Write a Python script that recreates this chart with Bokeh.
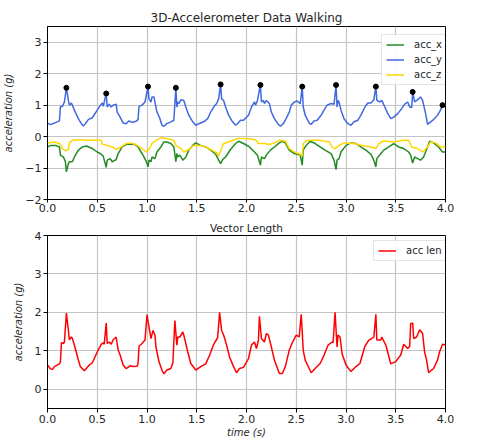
from bokeh.plotting import figure
from bokeh.models import Range1d, FixedTicker, PrintfTickFormatter, Legend, LegendItem
from bokeh.layouts import column
from bokeh.embed import file_html
from bokeh.resources import INLINE

# ---------------- data ----------------
t_y = [0, 0.03, 0.07, 0.12, 0.13, 0.15, 0.17, 0.19, 0.21, 0.22, 0.24, 0.25, 0.27, 0.31, 0.34, 0.36, 0.38, 0.41, 0.45, 0.5,
       0.54, 0.55, 0.56, 0.59, 0.6, 0.62, 0.64, 0.66, 0.69, 0.7, 0.73, 0.76, 0.79, 0.82, 0.85, 0.89, 0.91, 0.92, 0.95, 0.98,
       1.01, 1.02, 1.04, 1.05, 1.07, 1.09, 1.1, 1.13, 1.15, 1.17, 1.2, 1.24, 1.27, 1.29, 1.3, 1.31, 1.32, 1.34, 1.37, 1.39,
       1.42, 1.46, 1.49, 1.52, 1.57, 1.61, 1.64, 1.67, 1.7, 1.72, 1.74, 1.75, 1.77, 1.79, 1.82, 1.86, 1.89, 1.91, 1.94, 1.97,
       2.02, 2.05, 2.08, 2.09, 2.11, 2.14, 2.15, 2.17, 2.18, 2.2, 2.23, 2.25, 2.28, 2.32, 2.34, 2.37, 2.39, 2.43, 2.45, 2.48,
       2.51, 2.54, 2.56, 2.57, 2.59, 2.63, 2.65, 2.68, 2.71, 2.75, 2.78, 2.81, 2.85, 2.88, 2.9, 2.91, 2.92, 2.93, 2.95, 2.98,
       3.02, 3.05, 3.08, 3.12, 3.15, 3.19, 3.22, 3.25, 3.28, 3.3, 3.31, 3.34, 3.36, 3.39, 3.42, 3.45, 3.48, 3.52, 3.56, 3.59,
       3.62, 3.64, 3.66, 3.67, 3.69, 3.71, 3.75, 3.77, 3.8, 3.82, 3.85, 3.88, 3.92, 3.95, 3.97, 4.0]
acc_y = [0.43, 0.38, 0.43, 0.5, 0.96, 0.96, 1.1, 1.55, 1.15, 1.0, 1.07, 1.0, 0.84, 0.57, 0.41, 0.34, 0.41, 0.54, 0.6, 0.84,
         1.03, 1.07, 0.96, 1.37, 0.94, 1.03, 0.94, 1.0, 1.03, 0.78, 0.62, 0.43, 0.41, 0.5, 0.45, 0.49, 0.54, 0.96, 1.0, 1.1,
         1.59, 1.2, 1.1, 1.26, 1.26, 0.94, 0.78, 0.57, 0.36, 0.33, 0.41, 0.47, 0.52, 1.55, 0.94, 1.1, 1.05, 1.17, 1.15, 0.94,
         0.68, 0.47, 0.36, 0.41, 0.47, 0.57, 0.78, 0.94, 1.05, 1.2, 1.66, 1.2, 1.15, 0.94, 0.68, 0.47, 0.36, 0.41, 0.52, 0.52,
         0.68, 0.94, 1.1, 1.0, 1.15, 1.64, 1.1, 1.15, 1.05, 1.15, 1.05, 0.78, 0.57, 0.39, 0.33, 0.41, 0.52, 0.78, 1.0, 1.1,
         1.13, 1.05, 1.59, 0.94, 0.68, 0.43, 0.39, 0.5, 0.52, 0.68, 0.84, 1.0, 1.05, 1.03, 1.64, 0.94, 1.15, 1.1, 0.84, 0.57,
         0.41, 0.36, 0.47, 0.52, 0.68, 0.94, 1.07, 1.07, 1.17, 1.59, 1.15, 1.1, 1.15, 0.94, 0.73, 0.57, 0.62, 0.73, 0.89, 1.03,
         1.1, 0.94, 0.92, 1.42, 1.1, 1.15, 1.26, 1.15, 0.73, 0.39, 0.47, 0.54, 0.68, 0.84, 1.0, 1.02]

t_x = [0, 0.03, 0.08, 0.12, 0.13, 0.16, 0.18, 0.19, 0.21, 0.22, 0.25, 0.27, 0.31, 0.35, 0.39, 0.45, 0.5, 0.54, 0.56, 0.59,
       0.6, 0.63, 0.65, 0.69, 0.71, 0.75, 0.8, 0.87, 0.91, 0.94, 0.96, 0.99, 1.01, 1.02, 1.04, 1.05, 1.08, 1.1, 1.14, 1.17,
       1.2, 1.24, 1.27, 1.29, 1.3, 1.31, 1.33, 1.36, 1.39, 1.42, 1.46, 1.49, 1.54, 1.59, 1.64, 1.69, 1.72, 1.74, 1.76, 1.79,
       1.84, 1.89, 1.92, 1.97, 2.03, 2.08, 2.11, 2.14, 2.15, 2.18, 2.2, 2.24, 2.28, 2.33, 2.36, 2.39, 2.43, 2.48, 2.54, 2.56,
       2.57, 2.6, 2.64, 2.69, 2.74, 2.79, 2.85, 2.88, 2.9, 2.91, 2.93, 2.95, 3.0, 3.05, 3.1, 3.15, 3.2, 3.25, 3.28, 3.3,
       3.31, 3.35, 3.38, 3.43, 3.48, 3.53, 3.58, 3.63, 3.65, 3.67, 3.69, 3.72, 3.75, 3.78, 3.82, 3.84, 3.88, 3.93, 3.97, 4.0]
acc_x = [-0.33, -0.28, -0.28, -0.33, -0.59, -0.65, -0.8, -1.12, -0.86, -0.8, -0.8, -0.65, -0.43, -0.33, -0.3, -0.38, -0.49, -0.56, -0.62, -0.98,
         -0.75, -0.7, -0.8, -0.73, -0.54, -0.33, -0.24, -0.24, -0.33, -0.49, -0.59, -0.77, -0.96, -0.75, -0.8, -0.65, -0.7, -0.49, -0.33, -0.17,
         -0.17, -0.22, -0.33, -0.8, -0.54, -0.65, -0.59, -0.75, -0.65, -0.43, -0.28, -0.2, -0.28, -0.33, -0.43, -0.56, -0.75, -0.86, -0.73, -0.65,
         -0.41, -0.22, -0.15, -0.22, -0.33, -0.49, -0.59, -0.91, -0.65, -0.7, -0.59, -0.43, -0.33, -0.2, -0.15, -0.2, -0.43, -0.54, -0.59, -0.91,
         -0.43, -0.28, -0.15, -0.22, -0.33, -0.43, -0.54, -0.75, -1.05, -0.75, -0.7, -0.49, -0.28, -0.2, -0.22, -0.33, -0.43, -0.56, -0.75, -0.96,
         -0.7, -0.54, -0.43, -0.33, -0.22, -0.33, -0.38, -0.49, -0.59, -0.84, -0.65, -0.7, -0.75, -0.65, -0.33, -0.15, -0.2, -0.33, -0.49, -0.49]

t_z = [0, 0.07, 0.12, 0.15, 0.18, 0.21, 0.22, 0.25, 0.33, 0.4, 0.49, 0.54, 0.55, 0.6, 0.65, 0.69, 0.74, 0.79, 0.84, 0.9,
       0.95, 0.99, 1.02, 1.05, 1.09, 1.14, 1.2, 1.27, 1.29, 1.34, 1.37, 1.42, 1.47, 1.54, 1.59, 1.64, 1.7, 1.72, 1.74, 1.77,
       1.82, 1.91, 2.01, 2.09, 2.12, 2.18, 2.23, 2.28, 2.33, 2.39, 2.43, 2.48, 2.54, 2.56, 2.57, 2.61, 2.74, 2.83, 2.86, 2.89,
       2.93, 2.98, 3.08, 3.16, 3.25, 3.3, 3.33, 3.38, 3.48, 3.58, 3.63, 3.66, 3.72, 3.77, 3.82, 3.85, 3.9, 3.95, 4.0]
acc_z = [-0.2, -0.17, -0.22, -0.38, -0.45, -0.41, -0.2, -0.12, -0.1, -0.12, -0.12, -0.12, -0.24, -0.28, -0.33, -0.41, -0.33, -0.22, -0.2, -0.28,
         -0.38, -0.49, -0.41, -0.22, -0.12, -0.04, -0.06, -0.12, -0.28, -0.38, -0.49, -0.41, -0.28, -0.28, -0.33, -0.41, -0.52, -0.62, -0.45, -0.22,
         -0.17, -0.06, -0.06, -0.1, -0.22, -0.22, -0.25, -0.2, -0.12, -0.14, -0.38, -0.49, -0.56, -0.62, -0.22, -0.12, -0.12, -0.17, -0.33, -0.38,
         -0.28, -0.2, -0.22, -0.28, -0.33, -0.38, -0.22, -0.14, -0.17, -0.12, -0.12, -0.33, -0.38, -0.49, -0.33, -0.17, -0.2, -0.33, -0.33]

peak_t = [0.19, 0.59, 1.01, 1.29, 1.74, 2.14, 2.56, 2.9, 3.3, 3.67, 3.97]
peak_v = [1.55, 1.37, 1.59, 1.55, 1.66, 1.64, 1.59, 1.64, 1.59, 1.42, 1.0]

t_len = [0, 0.03, 0.05, 0.07, 0.12, 0.13, 0.14, 0.16, 0.17, 0.19, 0.21, 0.22, 0.24, 0.25, 0.27, 0.31, 0.33, 0.37, 0.39, 0.42,
         0.45, 0.5, 0.54, 0.56, 0.57, 0.59, 0.6, 0.62, 0.64, 0.66, 0.69, 0.71, 0.73, 0.76, 0.79, 0.83, 0.86, 0.9, 0.91, 0.92,
         0.95, 0.98, 1.0, 1.02, 1.04, 1.06, 1.08, 1.09, 1.12, 1.15, 1.17, 1.2, 1.24, 1.26, 1.28, 1.3, 1.31, 1.33, 1.36, 1.37,
         1.41, 1.44, 1.49, 1.54, 1.59, 1.63, 1.67, 1.71, 1.73, 1.75, 1.77, 1.8, 1.83, 1.87, 1.9, 1.93, 1.97, 2.02, 2.05, 2.08,
         2.1, 2.12, 2.13, 2.15, 2.18, 2.2, 2.22, 2.25, 2.28, 2.33, 2.36, 2.39, 2.43, 2.46, 2.5, 2.53, 2.55, 2.57, 2.59, 2.63,
         2.65, 2.69, 2.74, 2.78, 2.82, 2.86, 2.87, 2.89, 2.91, 2.92, 2.94, 2.96, 3.0, 3.05, 3.1, 3.14, 3.19, 3.23, 3.26, 3.28,
         3.3, 3.31, 3.35, 3.36, 3.4, 3.43, 3.45, 3.5, 3.55, 3.58, 3.62, 3.64, 3.65, 3.67, 3.68, 3.71, 3.74, 3.77, 3.79, 3.81,
         3.83, 3.86, 3.88, 3.92, 3.94, 3.97, 4.0]
acc_len = [0.63, 0.53, 0.52, 0.59, 0.66, 0.72, 1.21, 1.19, 1.23, 1.98, 1.53, 1.29, 1.36, 1.32, 1.15, 0.76, 0.59, 0.48, 0.54, 0.63,
           0.69, 0.97, 1.17, 1.21, 1.17, 1.72, 1.19, 1.23, 1.17, 1.29, 1.36, 1.02, 0.89, 0.63, 0.54, 0.61, 0.59, 0.6, 0.67, 1.12,
           1.19, 1.28, 1.94, 1.62, 1.32, 1.53, 1.41, 1.1, 0.72, 0.5, 0.4, 0.5, 0.54, 0.69, 1.79, 1.15, 1.36, 1.36, 1.49, 1.41,
           0.97, 0.67, 0.5, 0.59, 0.66, 0.89, 1.17, 1.34, 2.0, 1.53, 1.41, 1.15, 0.84, 0.59, 0.43, 0.54, 0.57, 0.8, 1.15, 1.23,
           1.06, 1.28, 1.9, 1.32, 1.23, 1.45, 1.41, 1.1, 0.76, 0.41, 0.41, 0.59, 1.02, 1.21, 1.41, 1.36, 1.95, 1.02, 0.76, 0.54,
           0.43, 0.54, 0.67, 0.89, 1.15, 1.23, 1.21, 2.0, 1.1, 1.41, 1.36, 0.93, 0.63, 0.46, 0.59, 0.67, 1.12, 1.28, 1.32, 1.36,
           1.95, 1.28, 1.28, 1.36, 1.15, 0.86, 0.66, 0.72, 0.89, 1.17, 1.06, 1.12, 1.71, 1.72, 1.32, 1.36, 1.55, 1.45, 0.97, 0.76,
           0.43, 0.5, 0.54, 0.76, 0.97, 1.17, 1.15]

x_ticks = [0.0, 0.5, 1.0, 1.5, 2.0, 2.5, 3.0, 3.5, 4.0]
y1_ticks = [-2, -1, 0, 1, 2, 3]
y2_ticks = [0, 1, 2, 3, 4]

FONT = "DejaVu Sans"
TXT = "#262626"


def style(p, yticks):
    p.outline_line_color = "black"
    p.outline_line_width = 1
    p.background_fill_color = "white"
    p.border_fill_color = "white"
    for g in (p.xgrid[0], p.ygrid[0]):
        g.grid_line_color = "#c4c4c4"
        g.grid_line_width = 1.2
    p.xaxis.ticker = FixedTicker(ticks=x_ticks)
    p.xaxis.formatter = PrintfTickFormatter(format="%.1f")
    p.yaxis.ticker = FixedTicker(ticks=yticks)
    p.yaxis.major_label_overrides = {v: ("\u2212%d" % -v if v < 0 else "%d" % v) for v in yticks}
    for ax in (p.xaxis[0], p.yaxis[0]):
        ax.axis_line_color = "black"
        ax.major_tick_in = 0
        ax.major_tick_out = 4
        ax.minor_tick_line_color = None
        ax.major_label_text_font = FONT
        ax.major_label_text_font_size = "11px"
        ax.major_label_text_color = TXT
        ax.major_label_standoff = 2
        ax.axis_label_text_font = FONT
        ax.axis_label_text_font_size = "10px"
        ax.axis_label_text_font_style = "italic"
        ax.axis_label_text_color = TXT
    p.yaxis.axis_label_standoff = 8
    p.title.text_font = FONT
    p.title.text_font_style = "normal"
    p.title.text_color = TXT
    p.title.align = "center"


def make_legend(p, items, loc):
    lg = Legend(items=items, location=loc)
    lg.label_text_font = FONT
    lg.label_text_font_size = "10px"
    lg.label_text_color = TXT
    lg.glyph_width = 18
    lg.glyph_height = 11
    lg.label_height = 11
    lg.label_standoff = 10
    lg.spacing = 4
    lg.padding = 4
    lg.margin = 0
    lg.border_line_color = "#cccccc"
    lg.border_line_width = 1
    lg.background_fill_alpha = 0.9
    p.add_layout(lg)


# ---------------- top chart ----------------
p1 = figure(width=479, height=216, output_backend="svg", toolbar_location=None,
            x_range=Range1d(0, 4), y_range=Range1d(-2, 3.5),
            title="3D-Accelerometer Data Walking",
            min_border_left=47, min_border_right=34, min_border_top=26, min_border_bottom=17)
style(p1, y1_ticks)
p1.xaxis.major_tick_out = 3
p1.xaxis.major_label_standoff = 1
p1.title.text_font_size = "12px"
p1.title.standoff = 4
p1.yaxis.axis_label = "acceleration (g)"
rx = p1.line(t_x, acc_x, color="#228B22", line_width=1.5)
ry = p1.line(t_y, acc_y, color="#4169E1", line_width=1.5)
rz = p1.line(t_z, acc_z, color="#FFD700", line_width=1.5)
p1.scatter(peak_t, peak_v, size=5, color="black")
make_legend(p1, [LegendItem(label="acc_x", renderers=[rx]),
                 LegendItem(label="acc_y", renderers=[ry]),
                 LegendItem(label="acc_z", renderers=[rz])], (334, 114))

# ---------------- bottom chart ----------------
p2 = figure(width=479, height=224, output_backend="svg", toolbar_location=None,
            x_range=Range1d(0, 4), y_range=Range1d(-0.5, 4),
            title="Vector Length",
            min_border_left=47, min_border_right=34, min_border_top=19, min_border_bottom=32)
style(p2, y2_ticks)
p2.title.text_font_size = "10.5px"
p2.title.standoff = 3
p2.yaxis.axis_label = "acceleration (g)"
p2.xaxis.axis_label = "time (s)"
p2.xaxis.axis_label_standoff = 1
rl = p2.line(t_len, acc_len, color="red", line_width=1.5)
make_legend(p2, [LegendItem(label="acc len", renderers=[rl])], (326, 147))

layout = column(p1, p2, spacing=0)
open("out.html", "w").write(file_html(layout, INLINE))
